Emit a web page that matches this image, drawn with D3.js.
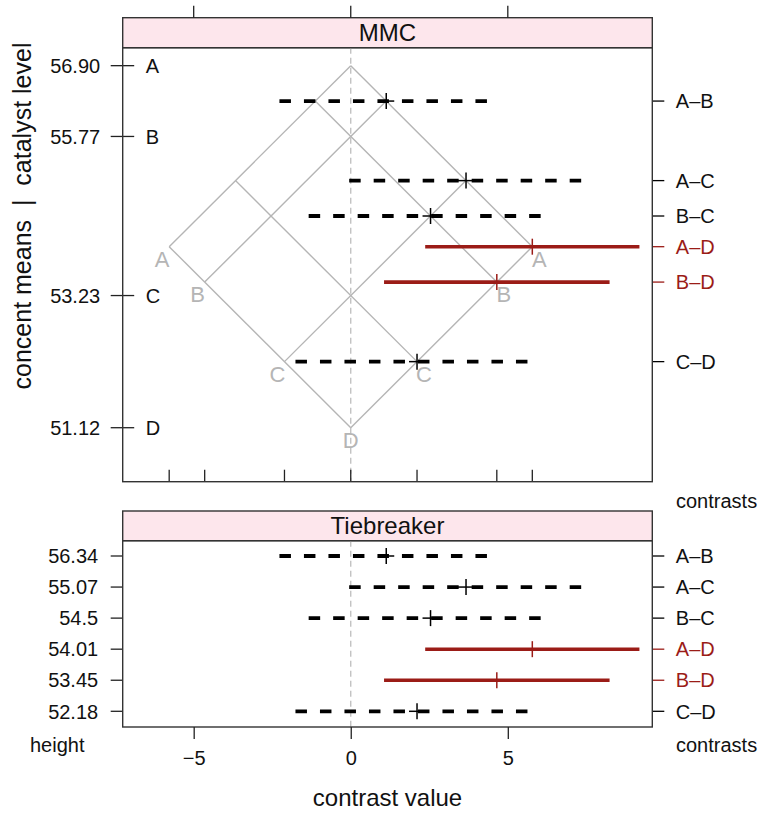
<!DOCTYPE html>
<html><head><meta charset="utf-8">
<script src="https://cdn.jsdelivr.net/npm/d3@7"></script>
<style>
html,body{margin:0;padding:0;background:#fff;}
text{font-family:"Liberation Sans",Arial,Helvetica,sans-serif;}
</style></head>
<body><svg id="c" width="760" height="813"></svg>
<script>
// ---- data ----
const levels = ["A","B","C","D"];
const means = [56.90, 55.77, 53.23, 51.12];
const meanLabels = ["56.90","55.77","53.23","51.12"];
const contrasts = ["A–B","A–C","B–C","A–D","B–D","C–D"];
const estimates = [1.13, 3.67, 2.54, 5.78, 4.65, 2.11];
const heights = [56.335, 55.065, 54.50, 54.01, 53.445, 52.175];
const heightLabels = ["56.34","55.07","54.5","54.01","53.45","52.18"];
const lower = [-2.27, -0.05, -1.34, 2.37, 1.06, -1.76];
const upper = [4.53, 7.39, 6.42, 9.19, 8.24, 5.98];
const significant = [false, false, false, true, true, false];
const xTicks = [-5, 0, 5];

// ---- layout ----
const svg = d3.select("#c");
const L = 122.7, R = 652.3;
const mmc = {stripTop: 17.7, top: 47.7, bottom: 481.7};
const tie = {stripTop: 511, top: 540.7, bottom: 727};
const RED = "#9b1c17", GREY = "#b5b5b5", FS = 20;

const x = d3.scaleLinear().domain([-7.26, 9.6]).range([L, R]);
const yM = d3.scaleLinear().domain([50.258, 57.187]).range([mmc.bottom, mmc.top]);
const yT = d3.scalePoint().domain(contrasts).range([556, 711.3]);

const minMean = d3.min(means), maxMean = d3.max(means);
const colOf = i => significant[i] ? RED : "#000";
const fmt = d => d < 0 ? "\u2212" + (-d) : String(d);

function strip(p, label) {
  svg.append("rect").attr("x", L).attr("y", p.stripTop).attr("width", R - L)
    .attr("height", p.top - p.stripTop).attr("fill", "#fde6ec")
    .attr("stroke", "#333").attr("stroke-width", 1.4);
  svg.append("text").attr("x", (L + R) / 2).attr("y", (p.stripTop + p.top) / 2)
    .attr("dy", "0.36em").attr("text-anchor", "middle").attr("font-size", 24)
    .attr("fill", "#111").text(label);
}
function zeroLine(p) {
  svg.append("line").attr("x1", x(0)).attr("x2", x(0)).attr("y1", p.top).attr("y2", p.bottom)
    .attr("stroke", "#bdbdbd").attr("stroke-width", 1.3).attr("stroke-dasharray", "6,4");
}
function intervals(g, yOf) {
  contrasts.forEach((c, i) => {
    const y = yOf(i);
    g.append("line").attr("x1", x(lower[i])).attr("x2", x(upper[i]))
      .attr("y1", y).attr("y2", y).attr("stroke", colOf(i))
      .attr("stroke-width", significant[i] ? 3.6 : 3.8)
      .attr("stroke-dasharray", significant[i] ? null : "11.5,13");
    g.append("line").attr("x1", x(estimates[i])).attr("x2", x(estimates[i]))
      .attr("y1", y - 8).attr("y2", y + 8).attr("stroke", colOf(i)).attr("stroke-width", 1.5);
    g.append("line").attr("x1", x(estimates[i]) - 8).attr("x2", x(estimates[i]) + 8)
      .attr("y1", y).attr("y2", y).attr("stroke", colOf(i)).attr("stroke-width", 1.5);
  });
}
function rightAxis(yOf) {
  contrasts.forEach((c, i) => {
    const y = yOf(i);
    svg.append("line").attr("x1", R).attr("x2", R + 12).attr("y1", y).attr("y2", y)
      .attr("stroke", colOf(i)).attr("stroke-width", 1.3);
    svg.append("text").attr("x", R + 23.5).attr("y", y).attr("dy", "0.36em")
      .attr("font-size", FS).attr("fill", significant[i] ? RED : "#111").text(c);
  });
}

// ================= MMC panel =================
strip(mmc, "MMC");
xTicks.forEach(t => {
  svg.append("line").attr("x1", x(t)).attr("x2", x(t)).attr("y1", mmc.stripTop - 12)
    .attr("y2", mmc.stripTop).attr("stroke", "#222").attr("stroke-width", 1.3);
});
zeroLine(mmc);

// iso-means grid
const grid = svg.append("g").attr("stroke", GREY).attr("stroke-width", 1.4).attr("fill", "none");
means.forEach(m => {
  grid.append("line").attr("x1", x(minMean - m)).attr("y1", yM((minMean + m) / 2))
    .attr("x2", x(maxMean - m)).attr("y2", yM((maxMean + m) / 2));
  grid.append("line").attr("x1", x(m - maxMean)).attr("y1", yM((m + maxMean) / 2))
    .attr("x2", x(m - minMean)).attr("y2", yM((m + minMean) / 2));
});
const GFS = 22;
means.forEach((m, i) => {
  const yy = yM((m + minMean) / 2);
  if (m === minMean) {
    svg.append("text").attr("x", x(0)).attr("y", yy + 12).attr("dy", "0.36em")
      .attr("text-anchor", "middle").attr("font-size", GFS).attr("fill", GREY).text(levels[i]);
  } else {
    svg.append("text").attr("x", x(minMean - m) - 7).attr("y", yy + 12).attr("dy", "0.36em")
      .attr("text-anchor", "middle").attr("font-size", GFS).attr("fill", GREY).text(levels[i]);
    svg.append("text").attr("x", x(m - minMean) + 7).attr("y", yy + 12).attr("dy", "0.36em")
      .attr("text-anchor", "middle").attr("font-size", GFS).attr("fill", GREY).text(levels[i]);
  }
});
const vert = Array.from(new Set(means.flatMap(m => [m - minMean, minMean - m])));
vert.forEach(v => {
  svg.append("line").attr("x1", x(v)).attr("x2", x(v)).attr("y1", mmc.bottom - 12)
    .attr("y2", mmc.bottom).attr("stroke", "#222").attr("stroke-width", 1.3);
});

intervals(svg.append("g"), i => yM(heights[i]));

means.forEach((m, i) => {
  const y = yM(m);
  svg.append("line").attr("x1", L - 12).attr("x2", L + 11.5).attr("y1", y).attr("y2", y)
    .attr("stroke", "#222").attr("stroke-width", 1.3);
  svg.append("text").attr("x", L - 22.5).attr("y", y).attr("dy", "0.36em")
    .attr("text-anchor", "end").attr("font-size", FS).attr("fill", "#111").text(meanLabels[i]);
  svg.append("text").attr("x", L + 23).attr("y", y).attr("dy", "0.36em")
    .attr("font-size", FS).attr("fill", "#111").text(levels[i]);
});
rightAxis(i => yM(heights[i]));
svg.append("rect").attr("x", L).attr("y", mmc.top).attr("width", R - L)
  .attr("height", mmc.bottom - mmc.top).attr("fill", "none").attr("stroke", "#333").attr("stroke-width", 1.4);
svg.append("text").attr("x", 676).attr("y", 508).attr("font-size", FS).attr("fill", "#111").text("contrasts");

// ================= Tiebreaker panel =================
strip(tie, "Tiebreaker");
zeroLine(tie);
intervals(svg.append("g"), i => yT(contrasts[i]));
contrasts.forEach((c, i) => {
  const y = yT(c);
  svg.append("line").attr("x1", L - 12).attr("x2", L).attr("y1", y).attr("y2", y)
    .attr("stroke", "#222").attr("stroke-width", 1.3);
  svg.append("text").attr("x", L - 24.5).attr("y", y).attr("dy", "0.36em")
    .attr("text-anchor", "end").attr("font-size", FS).attr("fill", "#111").text(heightLabels[i]);
});
rightAxis(i => yT(contrasts[i]));
svg.append("rect").attr("x", L).attr("y", tie.top).attr("width", R - L)
  .attr("height", tie.bottom - tie.top).attr("fill", "none").attr("stroke", "#333").attr("stroke-width", 1.4);

const ax = svg.append("g").attr("transform", `translate(0,${tie.bottom})`)
  .call(d3.axisBottom(x).tickValues(xTicks).tickSize(12).tickPadding(12).tickFormat(fmt));
ax.select(".domain").remove();
ax.selectAll("line").attr("stroke", "#222").attr("stroke-width", 1.3);
ax.selectAll("text").attr("font-size", FS).attr("fill", "#111")
  .attr("font-family", "'Liberation Sans',Arial,sans-serif");

svg.append("text").attr("x", 30).attr("y", 752).attr("font-size", FS).attr("fill", "#111").text("height");
svg.append("text").attr("x", 676).attr("y", 752).attr("font-size", FS).attr("fill", "#111").text("contrasts");
svg.append("text").attr("x", (L + R) / 2).attr("y", 806).attr("text-anchor", "middle")
  .attr("font-size", 24).attr("fill", "#111").text("contrast value");
svg.append("text").attr("transform", "translate(31,216) rotate(-90)").attr("text-anchor", "middle")
  .attr("font-size", 25).attr("fill", "#111").style("white-space", "pre")
  .text("concent means  |  catalyst level");
</script></body></html>
